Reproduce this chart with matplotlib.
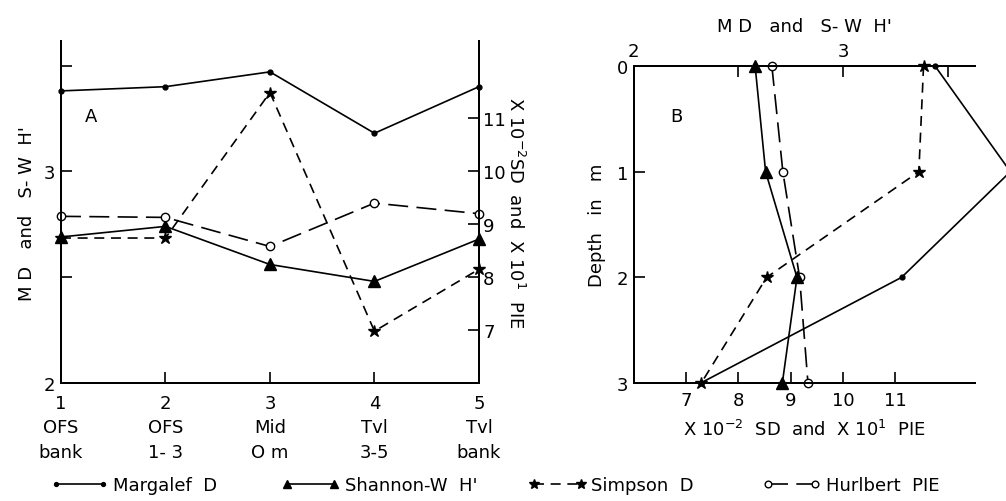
import numpy as np
import matplotlib.pyplot as plt
from matplotlib.lines import Line2D

plt.rcParams['font.family'] = ['DejaVu Sans']
plt.rcParams['font.size'] = 13

# Panel A: stations
stations = [1, 2, 3, 4, 5]
station_labels = ['1\nOFS\nbank', '2\nOFS\n1- 3', '3\nMid\nO m', '4\nTvl\n3-5', '5\nTvl\nbank']
margalef_a = [3.38, 3.40, 3.47, 3.18, 3.40]
shannon_a = [2.69, 2.74, 2.56, 2.48, 2.68]
simpson_a = [8.74, 8.74, 11.49, 6.98, 8.15]
hurlbert_a = [9.15, 9.13, 8.58, 9.40, 9.20]

# Panel B: depth profile
depth = [0, 1, 2, 3]
margalef_b = [3.44, 3.80, 3.28, 2.32]
shannon_b = [2.58, 2.63, 2.78, 2.71]
simpson_b = [11.54, 11.45, 8.54, 7.29]
hurlbert_b = [8.64, 8.85, 9.17, 9.33]

lw = 1.2
marg_kw = dict(color='k', lw=lw, marker='o', ms=3.5, ls='-')
shan_kw = dict(color='k', lw=lw, marker='^', ms=8, ls='-')
simp_kw = dict(color='k', lw=lw, marker='*', ms=9, ls=(0, (6, 4)))
hurl_kw = dict(color='k', lw=lw, marker='o', ms=6, mfc='white', ls=(0, (12, 5)))

fig = plt.figure(figsize=(10.06, 5.02), dpi=100)

# ---------------- Panel A
axA = fig.add_axes([0.0606, 0.235, 0.4155, 0.681])
axA2 = axA.twinx()
axA.set_xlim(1, 5)
axA.set_ylim(2, 3.615)
axA2.set_ylim(6, 12.46)

axA.plot(stations, margalef_a, clip_on=False, **marg_kw)
axA.plot(stations, shannon_a, clip_on=False, **shan_kw)
axA2.plot(stations, simpson_a, clip_on=False, **simp_kw)
axA2.plot(stations, hurlbert_a, clip_on=False, **hurl_kw)

for a in (axA, axA2):
    a.spines['top'].set_visible(False)
    for s in a.spines.values():
        s.set_linewidth(1.4)

axA.set_xticks(stations)
axA.set_xticklabels(station_labels, linespacing=1.45)
axA.set_yticks([2, 2.5, 3, 3.5])
axA.set_yticklabels(['2', '', '3', ''])
axA2.set_yticks([7, 8, 9, 10, 11])
axA.tick_params(direction='in', length=8, width=1.2, pad=4)
axA.tick_params(axis='x', pad=8)
axA2.tick_params(direction='in', length=8, width=1.2, pad=3)
axA.set_ylabel("M D   and   S- W  H'", labelpad=6)
axA2.set_ylabel("X 10$^{-2}$SD  and  X 10$^{1}$  PIE", rotation=270, labelpad=14)
axA.text(0.057, 0.766, 'A', transform=axA.transAxes, fontsize=13)

# ---------------- Panel B
axB = fig.add_axes([0.630, 0.235, 0.339, 0.6315])
axB2 = axB.twiny()
axB.set_xlim(6, 12.52)
axB2.set_xlim(2, 3.63)
axB.set_ylim(3, 0)

axB2.plot(margalef_b, depth, clip_on=False, **marg_kw)
axB2.plot(shannon_b, depth, clip_on=False, **shan_kw)
axB.plot(simpson_b, depth, clip_on=False, **simp_kw)
axB.plot(hurlbert_b, depth, clip_on=False, **hurl_kw)

for a in (axB, axB2):
    a.spines['right'].set_visible(False)
    for s in a.spines.values():
        s.set_linewidth(1.4)

axB.set_xticks([7, 8, 9, 10, 11])
axB.set_yticks(depth)
axB2.set_xticks([2, 2.5, 3, 3.5])
axB2.set_xticklabels(['2', '', '3', ''])
axB.tick_params(direction='in', length=8, width=1.2, pad=4)
axB.tick_params(axis='x', pad=6)
axB2.tick_params(direction='in', length=8, width=1.2, pad=4)
axB.set_xlabel("X 10$^{-2}$  SD  and  X 10$^{1}$  PIE", labelpad=7)
axB2.set_xlabel("M D   and   S- W  H'", labelpad=8)
axB.set_ylabel("Depth   in   m", labelpad=8)
axB.text(0.106, 0.826, 'B', transform=axB.transAxes, fontsize=13)

# ---------------- Legend (one entry each, placed like the original)
names = ['Margalef  D', "Shannon-W  H'", 'Simpson  D', 'Hurlbert  PIE']
styles = [marg_kw, shan_kw, simp_kw, hurl_kw]
x_starts = [0.050, 0.280, 0.525, 0.758]
for name, kw, x0 in zip(names, styles, x_starts):
    fig.legend([Line2D([], [], **kw)], [name], loc='center left',
               bbox_to_anchor=(x0, 0.032), frameon=False, numpoints=2,
               handlelength=3.2, handletextpad=0.3, markerscale=0.8,
               borderpad=0, borderaxespad=0)

fig.savefig('out.png', dpi=100)
